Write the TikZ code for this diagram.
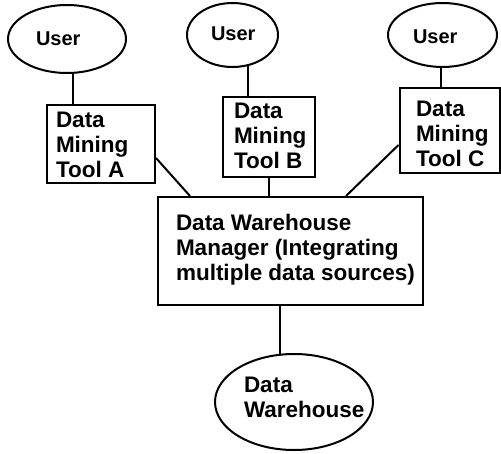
\documentclass[tikz,border=0pt]{standalone}
\usepackage{fontspec}
\setmainfont{Liberation Sans}
\usetikzlibrary{shapes.geometric,backgrounds}
\begin{document}
\begin{tikzpicture}[x=1pt,y=-1pt,line width=2pt,
  boxshape/.style={draw,fill=white,rectangle,inner sep=0pt},
  ellshape/.style={draw,fill=white,ellipse,inner sep=0pt},
  txt/.style={inner sep=0pt,anchor=base west,align=left,font=\bfseries\fontsize{22.5}{25}\selectfont},
  usertxt/.style={inner sep=0pt,anchor=base west,font=\bfseries\fontsize{20}{24}\selectfont},
  conn/.style={draw,line width=2pt}]
\useasboundingbox (0,0) rectangle (501,453);
% shapes
\node[ellshape,minimum width=118pt,minimum height=68pt] (userA) at (67,39) {};
\node[ellshape,minimum width=91pt,minimum height=64pt] (userB) at (232.5,35) {};
\node[ellshape,minimum width=109pt,minimum height=64pt] (userC) at (442.5,35) {};
\node[boxshape,minimum width=108pt,minimum height=78pt] (toolA) at (101,144) {};
\node[boxshape,minimum width=92pt,minimum height=80pt] (toolB) at (269,137) {};
\node[boxshape,minimum width=100pt,minimum height=85pt] (toolC) at (449.5,130.5) {};
\node[boxshape,minimum width=265pt,minimum height=108pt] (mgr) at (290.5,251) {};
\node[ellshape,minimum width=158pt,minimum height=96pt] (dw) at (294,402) {};
% texts (anchor = baseline of last line)
\node[usertxt] (userAt) at (35,45) {User};
\node[usertxt] (userBt) at (210,40) {User};
\node[usertxt] (userCt) at (412,43) {User};
\node[txt] (toolAt) at (55,177) {Data\\Mining\\Tool A};
\node[txt] (toolBt) at (233,168) {Data\\Mining\\Tool B};
\node[txt] (toolCt) at (415,166) {Data\\Mining\\Tool C};
\node[txt] (mgrt) at (175,280) {Data Warehouse\\Manager (Integrating\\multiple data sources)};
\node[txt] (dwt) at (243,417) {Data\\Warehouse};
% connectors
\begin{scope}[on background layer]
\draw[conn] ([xshift=27pt]toolA.north west) -- ([xshift=27pt]toolA.north west |- userA.center);
\draw[conn] ([xshift=26pt]toolB.north west) -- ([xshift=26pt]toolB.north west |- userB.center);
\draw[conn] ([xshift=42.5pt]toolC.north west) -- ([xshift=42.5pt]toolC.north west |- userC.center);
\draw[conn] ([yshift=-14pt]toolA.east) -- ([xshift=33pt]mgr.north west);
\draw[conn] (toolB.south) -- (toolB.south |- mgr.north);
\draw[conn] ([yshift=-14.5pt]toolC.west) -- ([xshift=189pt]mgr.north west);
\draw[conn] ([xshift=123pt]mgr.south west) -- ([xshift=123pt]mgr.south west |- dw.center);
\end{scope}
\end{tikzpicture}
\end{document}
